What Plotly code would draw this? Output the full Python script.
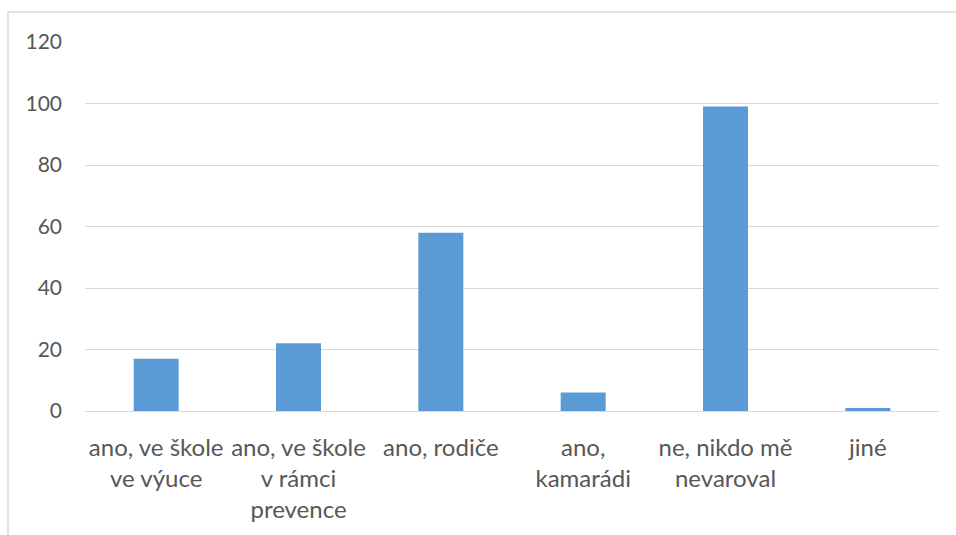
import plotly.graph_objects as go

# Odpovědi a počty respondentů
categories = [
    "ano, ve škole<br>ve výuce",
    "ano, ve škole<br>v rámci<br>prevence",
    "ano, rodiče",
    "ano,<br>kamarádi",
    "ne, nikdo mě<br>nevaroval",
    "jiné",
]
counts = [17, 22, 58, 6, 99, 1]
y_ticks = [0, 20, 40, 60, 80, 100, 120]

W, H = 956, 535
ML, MR, MT, MB = 85, 17, 42, 124

fig = go.Figure(
    go.Bar(
        x=list(range(len(categories))),
        y=counts,
        marker=dict(color="#5B9BD5", line=dict(width=0)),
        hoverinfo="x+y",
    )
)

plot_w = W - ML - MR
plot_h = H - MT - MB

# light frame around the chart area
fig.add_shape(
    type="rect",
    xref="paper", yref="paper",
    x0=(8 - ML) / plot_w, x1=1.2,
    y0=-0.6, y1=(H - MB - 12) / plot_h,
    line=dict(color="#d9d9d9", width=1.5),
    fillcolor="rgba(0,0,0,0)",
    layer="below",
)

fig.update_layout(
    width=W, height=H,
    margin=dict(l=ML, r=MR, t=MT, b=MB),
    paper_bgcolor="white",
    plot_bgcolor="white",
    bargap=0.684,
    showlegend=False,
    font=dict(family="Lato, Carlito, Calibri, sans-serif", color="#595959"),
    xaxis=dict(
        tickmode="array",
        tickvals=list(range(len(categories))),
        ticktext=categories,
        tickangle=0,
        tickfont=dict(size=24, color="#575757"),
        showgrid=False,
        zeroline=False,
        showline=False,
        ticks="",
        ticklabelstandoff=20,
        range=[-0.5, len(categories) - 0.5],
    ),
    yaxis=dict(
        range=[0, 120],
        tickmode="array",
        tickvals=y_ticks,
        tickfont=dict(size=21, color="#575757"),
        showgrid=True,
        gridcolor="#d9d9d9",
        gridwidth=1,
        zeroline=True,
        zerolinecolor="#d9d9d9",
        zerolinewidth=1,
        showline=False,
        ticks="",
        ticklabelstandoff=22,
    ),
)

fig.write_html("out.html")
